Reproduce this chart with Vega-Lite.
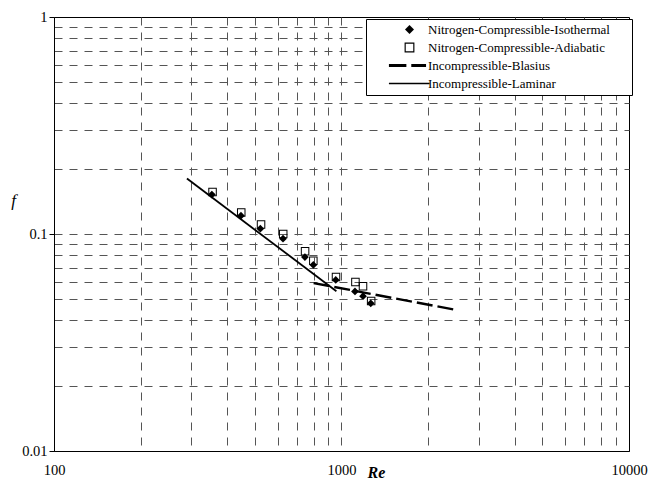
{
  "$schema": "https://vega.github.io/schema/vega-lite/v6.json",
  "width": 575,
  "height": 434,
  "autosize": "none",
  "padding": {"left": 54, "top": 17, "right": 36, "bottom": 30},
  "background": "white",
  "view": {"stroke": "black", "strokeWidth": 1, "fill": "white"},
  "config": {"font": "Liberation Serif, Times New Roman, DejaVu Serif, serif"},
  "datasets": {
    "points": [
      {"series": "Nitrogen-Compressible-Adiabatic", "Re": 356, "f": 0.156},
      {"series": "Nitrogen-Compressible-Adiabatic", "Re": 448, "f": 0.1256},
      {"series": "Nitrogen-Compressible-Adiabatic", "Re": 525, "f": 0.1106},
      {"series": "Nitrogen-Compressible-Adiabatic", "Re": 627, "f": 0.1},
      {"series": "Nitrogen-Compressible-Adiabatic", "Re": 747, "f": 0.0833},
      {"series": "Nitrogen-Compressible-Adiabatic", "Re": 798, "f": 0.0753},
      {"series": "Nitrogen-Compressible-Adiabatic", "Re": 957, "f": 0.0634},
      {"series": "Nitrogen-Compressible-Adiabatic", "Re": 1118, "f": 0.0601},
      {"series": "Nitrogen-Compressible-Adiabatic", "Re": 1188, "f": 0.0575},
      {"series": "Nitrogen-Compressible-Adiabatic", "Re": 1268, "f": 0.0491},
      {"series": "Nitrogen-Compressible-Isothermal", "Re": 354, "f": 0.152},
      {"series": "Nitrogen-Compressible-Isothermal", "Re": 447, "f": 0.1215},
      {"series": "Nitrogen-Compressible-Isothermal", "Re": 522, "f": 0.1058},
      {"series": "Nitrogen-Compressible-Isothermal", "Re": 626, "f": 0.0951},
      {"series": "Nitrogen-Compressible-Isothermal", "Re": 746, "f": 0.0783},
      {"series": "Nitrogen-Compressible-Isothermal", "Re": 798, "f": 0.072},
      {"series": "Nitrogen-Compressible-Isothermal", "Re": 955, "f": 0.0614},
      {"series": "Nitrogen-Compressible-Isothermal", "Re": 1114, "f": 0.0544},
      {"series": "Nitrogen-Compressible-Isothermal", "Re": 1188, "f": 0.0517},
      {"series": "Nitrogen-Compressible-Isothermal", "Re": 1264, "f": 0.0479}
    ],
    "laminar": [
      {"series": "Incompressible-Laminar", "Re": 290, "f": 0.1803},
      {"series": "Incompressible-Laminar", "Re": 960, "f": 0.0545}
    ],
    "blasius": [
      {"series": "Incompressible-Blasius", "Re": 800, "f": 0.0594},
      {"series": "Incompressible-Blasius", "Re": 2480, "f": 0.0448}
    ]
  },
  "encoding": {
    "x": {
      "field": "Re",
      "type": "quantitative",
      "scale": {"type": "log", "domain": [100, 10000], "nice": false},
      "axis": {
        "title": "Re",
        "values": [100, 200, 300, 400, 500, 600, 700, 800, 900, 1000, 2000, 3000, 4000, 5000, 6000, 7000, 8000, 9000, 10000],
        "labelExpr": "datum.value == 100 ? '100' : datum.value == 1000 ? '1000' : datum.value == 10000 ? '10000' : ''",
        "ticks": false,
        "labelPadding": 12,
        "labelFont": "Liberation Serif, Times New Roman, DejaVu Serif, serif",
        "labelFontSize": 14.5,
        "labelColor": "black",
        "labelOverlap": false,
        "labelFlush": false,
        "domainColor": "black",
        "domainWidth": 1,
        "grid": true,
        "gridDash": [8, 7],
        "gridColor": "#555555",
        "gridWidth": 1,
        "gridOpacity": {"condition": {"test": "datum.value == 100 || datum.value == 10000", "value": 0}, "value": 1},
        "titleFont": "Liberation Serif, Times New Roman, DejaVu Serif, serif",
        "titleFontStyle": "italic",
        "titleFontWeight": "bold",
        "titleFontSize": 16,
        "titleColor": "black",
        "titleX": 322,
        "titleY": 21,
        "titleBaseline": "middle",
        "titleAlign": "center"
      }
    },
    "y": {
      "field": "f",
      "type": "quantitative",
      "scale": {"type": "log", "domain": [0.01, 1], "nice": false},
      "axis": {
        "title": "f",
        "values": [0.01, 0.02, 0.03, 0.04, 0.05, 0.06, 0.07, 0.08, 0.09, 0.1, 0.2, 0.3, 0.4, 0.5, 0.6, 0.7, 0.8, 0.9, 1],
        "labelExpr": "datum.value == 1 ? '1' : datum.value == 0.1 ? '0.1' : datum.value == 0.01 ? '0.01' : ''",
        "ticks": true,
        "tickSize": 5,
        "tickColor": "black",
        "tickOpacity": {"condition": {"test": "datum.value == 1 || datum.value == 0.1 || datum.value == 0.01", "value": 1}, "value": 0},
        "labelPadding": 2,
        "labelFont": "Liberation Serif, Times New Roman, DejaVu Serif, serif",
        "labelFontSize": 14.5,
        "labelColor": "black",
        "labelOverlap": false,
        "labelFlush": false,
        "domainColor": "black",
        "domainWidth": 1,
        "grid": true,
        "gridDash": [8, 7],
        "gridColor": "#555555",
        "gridWidth": 1,
        "gridOpacity": {"condition": {"test": "datum.value == 1 || datum.value == 0.01", "value": 0}, "value": 1},
        "titleFont": "Liberation Serif, Times New Roman, DejaVu Serif, serif",
        "titleFontStyle": "italic",
        "titleFontWeight": "normal",
        "titleFontSize": 17,
        "titleColor": "black",
        "titleAngle": 0,
        "titleX": -41,
        "titleY": 183,
        "titleBaseline": "middle",
        "titleAlign": "center"
      }
    }
  },
  "layer": [
    {
      "data": {"name": "points"},
      "mark": {"type": "point", "filled": true, "color": "black", "strokeWidth": 0, "size": 60, "opacity": 1},
      "encoding": {
        "shape": {
          "field": "series",
          "type": "nominal",
          "scale": {
            "domain": ["Nitrogen-Compressible-Isothermal", "Nitrogen-Compressible-Adiabatic", "Incompressible-Blasius", "Incompressible-Laminar"],
            "range": ["diamond", "M-1.1,-1.1H1.1V1.1H-1.1Z M-0.84,-0.84V0.84H0.84V-0.84Z", "M-4.6,-0.33H-0.7V0.33H-4.6Z M0.4,-0.33H3.7V0.33H0.4Z", "M-4.6,-0.17H4.5V0.17H-4.6Z"]
          },
          "legend": {
            "orient": "none",
            "legendX": 312,
            "legendY": 2,
            "title": "MM",
            "titleOrient": "right",
            "titleOpacity": 0,
            "titleFontSize": 7,
            "titlePadding": 4,
            "strokeColor": "black",
            "fillColor": "white",
            "padding": 4,
            "cornerRadius": 0,
            "labelFont": "Liberation Serif, Times New Roman, DejaVu Serif, serif",
            "labelFontSize": 13,
            "labelColor": "black",
            "labelLimit": 400,
            "symbolSize": 80,
            "symbolFillColor": "black",
            "symbolStrokeWidth": 0,
            "symbolOffset": 33,
            "labelOffset": 12,
            "rowPadding": 4
          }
        }
      }
    },
    {
      "data": {"name": "laminar"},
      "mark": {"type": "line", "color": "black", "strokeWidth": 1.8},
      "encoding": {}
    },
    {
      "data": {"name": "blasius"},
      "mark": {"type": "line", "color": "black", "strokeWidth": 2.4, "strokeDash": [16, 5]},
      "encoding": {}
    }
  ]
}
